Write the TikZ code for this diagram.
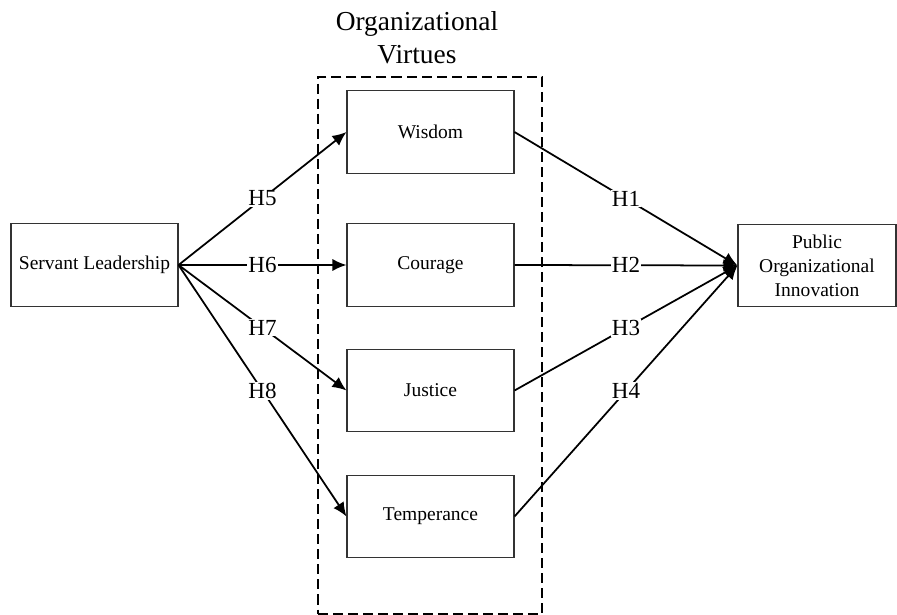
\documentclass[tikz,border=0pt]{standalone}
\usepackage{fontspec}
\setmainfont{Liberation Serif}
\usepackage{tikz}
\usetikzlibrary{arrows.meta, positioning, calc}

\begin{document}
\begin{tikzpicture}[
  construct/.style={rectangle, draw=black!80, line width=0.6pt, fill=white, minimum width=3.34cm, minimum height=1.65cm, align=center, font=\fontsize{11.1}{13.6}\selectfont},
  group/.style={draw=black, line width=1.15pt, dash pattern=on 5.7pt off 2.85pt, minimum width=4.48cm, minimum height=10.74cm},
  arrow/.style={-{Latex[length=8pt, width=7pt]}, line width=1pt},
  hyp/.style={fill=white, inner sep=0.6pt, font=\fontsize{13.1}{15}\selectfont}
]
\useasboundingbox (0,0) rectangle (17.94,-12.30);

% --- Gruppenrahmen Organizational Virtues ---
\node[group] (virtuesbox) at (8.60,-6.91) {};
\node[align=center, font=\fontsize{15.6}{18.8}\selectfont] (virtuestitle) at (8.34,-0.76) {Organizational\\Virtues};

% --- Konstrukte ---
\node[construct] (servant)    at (1.89,-5.30)  {Servant Leadership};
\node[construct] (wisdom)     at (8.61,-2.64)  {Wisdom};
\node[construct] (courage)    at (8.61,-5.30)  {Courage};
\node[construct] (justice)    at (8.61,-7.81)  {Justice};
\node[construct] (temperance) at (8.61,-10.33) {Temperance};
\node[construct, minimum width=3.16cm] (innovation) at (16.34,-5.31) {Public\\Organizational\\Innovation};

% Verbindungen
\draw[arrow] (servant.east) -- node[hyp] {H5} (wisdom.west);
\draw[arrow] (servant.east) -- node[hyp] {H6} (courage.west);
\draw[arrow] (servant.east) -- node[hyp] {H7} (justice.west);
\draw[arrow] (servant.east) -- node[hyp] {H8} (temperance.west);

\draw[arrow] (wisdom.east)     -- node[hyp] {H1} (innovation.west);
\draw[arrow] (courage.east)    -- node[hyp] {H2} (innovation.west);
\draw[arrow] (justice.east)    -- node[hyp] {H3} (innovation.west);
\draw[arrow] (temperance.east) -- node[hyp] {H4} (innovation.west);
\end{tikzpicture}
\end{document}
